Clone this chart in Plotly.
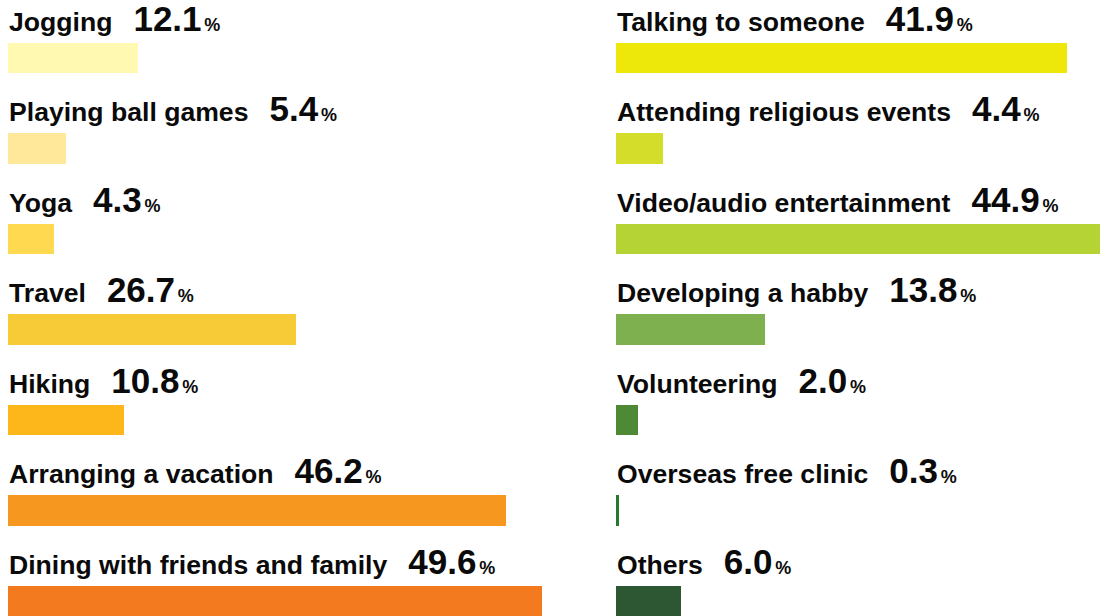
import plotly.graph_objects as go

# ---- data ----
left_labels = ["Jogging", "Playing ball games", "Yoga", "Travel", "Hiking",
               "Arranging a vacation", "Dining with friends and family"]
left_values = [12.1, 5.4, 4.3, 26.7, 10.8, 46.2, 49.6]
left_colors = ["#FFF9B1", "#FFE899", "#FFD94F", "#F7CB37", "#FDB71A", "#F6971F", "#F47A20"]

right_labels = ["Talking to someone", "Attending religious events", "Video/audio entertainment",
                "Developing a habby", "Volunteering", "Overseas free clinic", "Others"]
right_values = [41.9, 4.4, 44.9, 13.8, 2.0, 0.3, 6.0]
right_colors = ["#EDE70A", "#D4DE2A", "#B5D334", "#7FB050", "#4E8A35", "#237A2C", "#2D5733"]

# ---- layout constants ----
W, H = 1103, 616
PX_PER_PCT = 10.77
ROW = 90.5          # px between rows
FIRST = 58.2        # px centre of first bar
BAR_PX = 30.5
bar_w = BAR_PX / ROW
FONT = "Liberation Sans, Arial, sans-serif"

rows = list(range(len(left_labels)))

fig = go.Figure()
fig.add_trace(go.Bar(x=left_values, y=rows, orientation="h", width=bar_w,
                     marker=dict(color=left_colors, line=dict(width=0)),
                     xaxis="x", yaxis="y", hoverinfo="skip"))
fig.add_trace(go.Bar(x=right_values, y=rows, orientation="h", width=bar_w,
                     marker=dict(color=right_colors, line=dict(width=0)),
                     xaxis="x2", yaxis="y", hoverinfo="skip"))

def label_text(lbl, v):
    return (f"<b>{lbl}&nbsp;<span style='font-size:14px'>&nbsp;</span>"
            f"<span style='font-size:35px'>&nbsp;{v:.1f}</span>"
            f"<span style='font-size:10px'>&nbsp;</span>"
            f"<span style='font-size:18px'>%</span></b>")

annotations = []
for xr, labels, values in (("x", left_labels, left_values), ("x2", right_labels, right_values)):
    for i, (lbl, v) in enumerate(zip(labels, values)):
        annotations.append(dict(
            x=0, xref=xr, y=i - bar_w / 2, yref="y",
            xanchor="left", yanchor="bottom", yshift=4, xshift=0,
            text=label_text(lbl, v), showarrow=False, borderpad=0,
            font=dict(family=FONT, size=26.6, color="#0a0a0a"),
        ))

left_dom = [8 / W, 560 / W]
right_dom = [616 / W, 1.0]
fig.update_layout(
    width=W, height=H, margin=dict(l=0, r=0, t=0, b=0),
    paper_bgcolor="white", plot_bgcolor="white", showlegend=False,
    bargap=0,
    xaxis=dict(domain=left_dom, range=[0, (left_dom[1] - left_dom[0]) * W / PX_PER_PCT],
               visible=False, fixedrange=True),
    xaxis2=dict(domain=right_dom, range=[0, (right_dom[1] - right_dom[0]) * W / PX_PER_PCT],
                visible=False, fixedrange=True, anchor="y"),
    yaxis=dict(range=[(H - FIRST) / ROW, -FIRST / ROW], visible=False, fixedrange=True),
    annotations=annotations,
)

fig.write_html("out.html", config={"displayModeBar": False})
